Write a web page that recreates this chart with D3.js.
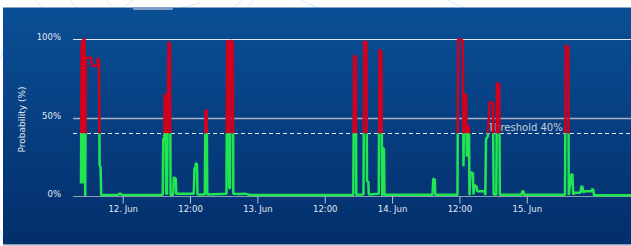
<!DOCTYPE html>
<html>
<head>
<meta charset="utf-8">
<script src="https://cdn.jsdelivr.net/npm/d3@7"></script>
<style>
  html, body { margin: 0; padding: 0; background: #fff; }
  svg { display: block; font-family: 'DejaVu Sans', sans-serif; }
</style>
</head>
<body>
<div class="chart"></div>
<script>
const svgWidth = 631;
const svgHeight = 246;

// hours since 12 Jun 00:00 (UTC) and probability (%)
const readings = [
  [-7.43, 8], [-7.34, 96], [-7.20, 99], [-7.07, 8], [-6.97, 100], [-6.79, 100],
  [-6.68, 0], [-6.57, 88], [-5.56, 88], [-5.47, 83], [-4.49, 83], [-4.40, 88],
  [-4.22, 86], [-4.12, 20], [-3.94, 18], [-3.83, 0.5], [-0.84, 0.8], [-0.48, 1.5],
  [-0.12, 0.8], [4.86, 0.6], [7.14, 0.8],
  [7.23, 37], [7.41, 36], [7.50, 65], [7.64, 64], [7.75, 2], [7.89, 1],
  [8.16, 98], [8.43, 97], [8.53, 0.5], [9.00, 1], [9.10, 12], [9.46, 11],
  [9.55, 1.5], [12.67, 1.5], [12.79, 18], [12.94, 17], [13.02, 21], [13.24, 20],
  [13.33, 1], [14.63, 1], [14.75, 55], [14.98, 54], [15.07, 1],
  [18.49, 1.5], [18.62, 99], [18.89, 98], [18.98, 5], [19.12, 5], [19.21, 99],
  [19.62, 98], [19.71, 1.5], [20.90, 1.2], [21.79, 1.5], [22.68, 0.6],
  [41.09, 0.6], [41.21, 89], [41.53, 89], [41.62, 0.8], [42.90, 1],
  [43.03, 98.5], [43.44, 98], [43.53, 9.5], [43.76, 9], [43.85, 1],
  [45.63, 1.5], [45.75, 93], [46.08, 92], [46.17, 42], [46.25, 0], [46.34, 30.5],
  [46.56, 30], [46.65, 0.8], [55.20, 0.8], [55.34, 11], [55.61, 10.5], [55.70, 0.8],
  [59.65, 0.8], [59.78, 100], [60.60, 99], [60.72, 19], [60.86, 65], [61.20, 64],
  [61.31, 25], [61.40, 44.5], [61.70, 44], [61.79, 0.5], [61.97, 15], [62.41, 14.5],
  [62.50, 1], [62.65, 7], [63.04, 6], [63.16, 3], [64.52, 3], [64.61, 0.5],
  [64.73, 36], [65.05, 38], [65.41, 60], [65.98, 59], [66.09, 1], [66.57, 1],
  [66.69, 72], [67.10, 71], [67.19, 0.8], [71.02, 0.8], [71.20, 3], [71.41, 3],
  [71.50, 0.8], [78.81, 0.8], [78.95, 96], [79.39, 95], [79.48, 0.5],
  [79.96, 14], [80.14, 13.5], [80.27, 1], [80.55, 2], [81.57, 2], [81.71, 6],
  [81.92, 6], [82.05, 2.5], [82.46, 3], [83.53, 3], [83.65, 4.5], [83.85, 4],
  [83.97, 0.5], [90.57, 0.5]
];

const yTicks = [0, 50, 100];
const threshold = 40;
const thresholdLabel = 'Threshold 40%';
const yTitle = 'Probability (%)';

const jun12 = Date.UTC(2021, 5, 12);
const domainStart = new Date(jun12 - 8.855 * 3600e3);
const domainEnd = new Date(jun12 + 90.57 * 3600e3);
// last labelled tick on the axis
const lastTick = new Date(Date.UTC(2021, 5, 15));

const margin = { top: 39, left: 73, right: 0, bottom: 50 };
const plotRight = svgWidth - margin.right;
const plotBottom = 196;

const svg = d3.select('.chart')
  .append('svg')
  .attr('width', svgWidth)
  .attr('height', svgHeight);

const defs = svg.append('defs');
const grad = defs.append('linearGradient')
  .attr('id', 'bg')
  .attr('x1', 0).attr('y1', 0).attr('x2', 0).attr('y2', 1);
grad.append('stop').attr('offset', '0%').attr('stop-color', '#0a4f95');
grad.append('stop').attr('offset', '100%').attr('stop-color', '#032e6c');

// faint decorative lines behind the panel
const deco = [[35, 0, 43, 8], [70, 0, 77, 8], [107, 0, 113, 8], [123, 8, 133, 0],
  [180, 8, 200, 3], [233, 8, 243, 0], [247, 8, 253, 0], [300, 0, 318, 8],
  [447, 0, 465, 8], [0, 60, 3, 50], [0, 230, 3, 240]];
svg.selectAll('line.deco')
  .data(deco)
  .enter()
  .append('line')
  .attr('x1', d => d[0]).attr('y1', d => d[1])
  .attr('x2', d => d[2]).attr('y2', d => d[3])
  .attr('stroke', '#d3e9f6')
  .attr('stroke-width', 1);

svg.append('rect')
  .attr('x', 3).attr('y', 7.5)
  .attr('width', svgWidth - 3).attr('height', 237)
  .attr('fill', 'url(#bg)');

svg.append('rect')
  .attr('x', 3).attr('y', 244.5)
  .attr('width', svgWidth - 3).attr('height', 1)
  .attr('fill', '#8d9bb4');

svg.append('rect')
  .attr('x', 133).attr('y', 7.5)
  .attr('width', 40).attr('height', 2.5)
  .attr('rx', 1)
  .attr('fill', '#7a9cc6');

const x = d3.scaleUtc()
  .domain([domainStart, domainEnd])
  .range([margin.left, plotRight]);

const y = d3.scaleLinear()
  .domain([0, 100])
  .range([plotBottom, margin.top]);

// grid lines
const gridColors = { 0: '#8e9ab0', 50: '#aab2c0', 100: '#dfe6ef' };
svg.selectAll('line.grid')
  .data(yTicks)
  .enter()
  .append('line')
  .attr('x1', margin.left).attr('x2', plotRight)
  .attr('y1', d => Math.round(y(d)) + 0.5)
  .attr('y2', d => Math.round(y(d)) + 0.5)
  .attr('stroke', d => gridColors[d])
  .attr('stroke-width', d => d === 50 ? 1.6 : 1);

svg.selectAll('text.ytick')
  .data(yTicks)
  .enter()
  .append('text')
  .attr('x', 61)
  .attr('y', d => y(d) + 1)
  .attr('text-anchor', 'end')
  .attr('font-size', 8.5)
  .attr('fill', '#e4e8f0')
  .text(d => d + '%');

svg.append('text')
  .attr('transform', `translate(25, ${(margin.top + plotBottom) / 2 + 2}) rotate(-90)`)
  .attr('text-anchor', 'middle')
  .attr('font-size', 9)
  .attr('fill', '#e4e8f0')
  .text(yTitle);

// threshold line and label
svg.append('line')
  .attr('x1', margin.left).attr('x2', plotRight)
  .attr('y1', Math.round(y(threshold)) + 0.5)
  .attr('y2', Math.round(y(threshold)) + 0.5)
  .attr('stroke', '#dfe6ef')
  .attr('stroke-dasharray', '4,3');

svg.append('text')
  .attr('x', 488)
  .attr('y', y(threshold) - 2.5)
  .attr('font-size', 10)
  .attr('fill', '#c7ced9')
  .text(thresholdLabel);

// x axis
const xAxis = d3.axisBottom(x)
  .tickValues(x.ticks(d3.utcHour.every(12)).filter(d => d <= lastTick))
  .tickSize(7)
  .tickFormat(d => d.getUTCHours() === 0 ? d3.utcFormat('%-d. %b')(d) : d3.utcFormat('%H:%M')(d));

const xAxisG = svg.append('g')
  .attr('transform', `translate(0, ${plotBottom + 0.5})`)
  .call(xAxis);
xAxisG.select('.domain').remove();
xAxisG.selectAll('.tick line').attr('stroke', '#b8c2d4');
xAxisG.selectAll('.tick text')
  .attr('fill', '#e4e8f0')
  .attr('font-size', 8.5)
  .attr('font-family', 'DejaVu Sans, sans-serif')
  .attr('dy', '0.71em')
  .attr('y', 9);

// series, coloured by zone
const line = d3.line()
  .x(d => x(new Date(jun12 + d[0] * 3600e3)))
  .y(d => y(d[1]));

const ty = y(threshold);
defs.append('clipPath').attr('id', 'above')
  .append('rect').attr('x', 0).attr('y', 0).attr('width', svgWidth).attr('height', ty);
defs.append('clipPath').attr('id', 'below')
  .append('rect').attr('x', 0).attr('y', ty).attr('width', svgWidth).attr('height', svgHeight - ty);

[['below', '#22e651'], ['above', '#d2001f']].forEach(([zone, color]) => {
  svg.append('path')
    .datum(readings)
    .attr('clip-path', `url(#${zone})`)
    .attr('fill', 'none')
    .attr('stroke', color)
    .attr('stroke-width', 2.5)
    .attr('stroke-linejoin', 'bevel')
    .attr('d', line);
});
</script>
</body>
</html>
